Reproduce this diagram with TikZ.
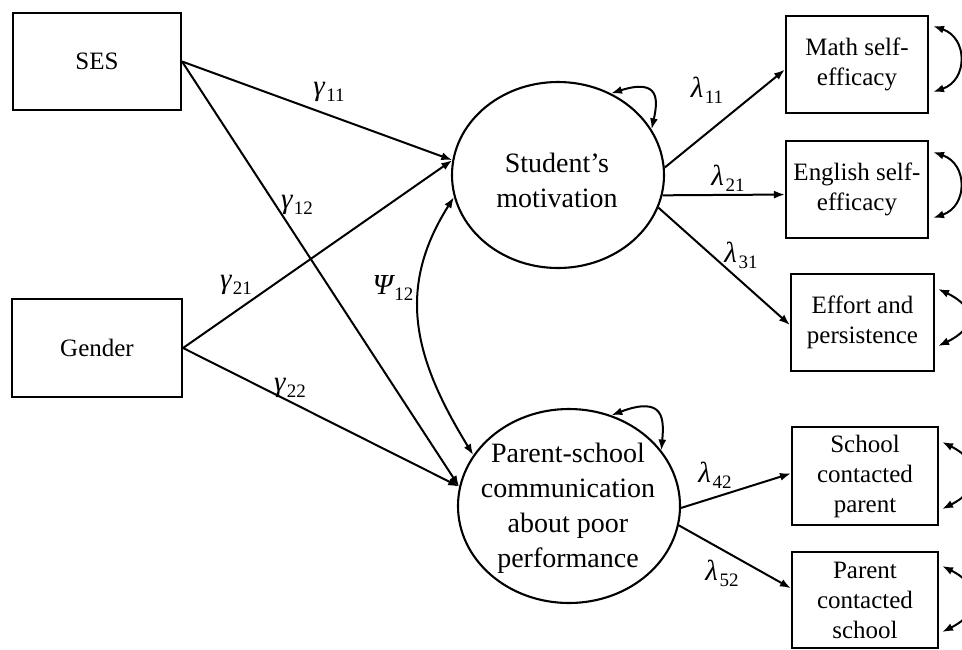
\documentclass[tikz,border=0pt]{standalone}
\usepackage{fontspec}
\setmainfont{Liberation Serif}
\usetikzlibrary{shapes.geometric,arrows.meta}
\newcommand\semlab[2]{{\itshape #1}\kern1.5pt\raisebox{-6pt}{\fontsize{19}{19}\selectfont #2}}
\begin{document}
\begin{tikzpicture}[x=1pt,y=-1pt,
  obs/.style={draw,line width=2.1pt,rectangle,inner sep=0pt,align=center,font=\fontsize{25}{30}\selectfont},
  lat/.style={draw,line width=2.1pt,ellipse,inner sep=0pt},
  lattext/.style={align=center,inner sep=0pt,font=\fontsize{28}{35}\selectfont},
  lbl/.style={inner sep=0pt,font=\fontsize{29}{30}\selectfont},
  arr/.style={line width=2pt,-{Latex[length=11pt,width=8pt]}},
  dbl/.style={line width=2pt,{Latex[length=11pt,width=8pt]}-{Latex[length=11pt,width=8pt]}}]
\useasboundingbox (0,0) rectangle (962,649);
\clip (0,0) rectangle (962,649);

% exogenous
\node[obs,minimum width=168pt,minimum height=97pt] (ses) at (97,61.5) {SES};
\node[obs,minimum width=170pt,minimum height=98pt] (gen) at (97,348) {Gender};

% latent
\node[lat,minimum width=212pt,minimum height=186pt] (sm) at (558,175) {};
\node[lattext] (smt) at (557,180) {Student’s\\motivation};
\node[lat,minimum width=222pt,minimum height=194pt] (ps) at (569,506) {};
\node[lattext] (pst) at (568,508) {Parent-school\\communication\\about poor\\performance};

% indicators
\node[obs,minimum width=142pt,minimum height=97pt] (math) at (857,64.5) {Math self-\\efficacy};
\node[obs,minimum width=142pt,minimum height=97pt] (eng) at (857,189.5) {English self-\\efficacy};
\node[obs,minimum width=143pt,minimum height=97pt] (eff) at (862.5,322.5) {Effort and\\persistence};
\node[obs,minimum width=146pt,minimum height=98pt] (scp) at (865,476) {School\\contacted\\parent};
\node[obs,minimum width=146pt,minimum height=96pt] (pcs) at (865,600) {Parent\\contacted\\school};

% structural paths
\draw[arr] (ses.east) -- (sm.172);
\draw[arr] (ses.east) -- (ps.170);
\draw[arr] (gen.east) -- (sm.172);
\draw[arr] (gen.east) -- (ps.170);
\draw[dbl] (sm.192) .. controls (395,290) and (415,360) .. (ps.152);

% loadings
\draw[arr] (sm.4) -- (math.184);
\draw[arr] (sm.-11) -- (eng.184);
\draw[arr] (sm.-18) -- (eff.182);
\draw[arr] (ps.-1) -- (scp.178);
\draw[arr] (ps.-10) -- (pcs.171);

% disturbances
\draw[dbl] (sm.57) .. controls (660,78) and (658,100) .. (sm.26);
\draw[dbl] (ps.65) .. controls (665,395) and (664,420) .. (ps.31);

% error variances
\draw[dbl] ([xshift=4pt,yshift=-11pt]math.north east) .. controls +(35,12) and +(35,-12) .. ([xshift=4pt,yshift=22pt]math.south east);
\draw[dbl] ([xshift=4pt,yshift=-12pt]eng.north east) .. controls +(35,12) and +(35,-12) .. ([xshift=4pt,yshift=21pt]eng.south east);
\draw[dbl] ([xshift=3pt,yshift=-16pt]eff.north east) .. controls +(38,18) and +(38,-18) .. ([xshift=3pt,yshift=26pt]eff.south east);
\draw[dbl] ([xshift=3pt,yshift=-16pt]scp.north east) .. controls +(40,20) and +(40,-20) .. ([xshift=3pt,yshift=17pt]scp.south east);
\draw[dbl] ([xshift=3pt,yshift=-15pt]pcs.north east) .. controls +(40,20) and +(40,-20) .. ([xshift=3pt,yshift=17pt]pcs.south east);

% labels
\node[lbl] (g11) at (329,92) {\semlab{γ}{11}};
\node[lbl] (g12) at (297,205) {\semlab{γ}{12}};
\node[lbl] (g21) at (236,285) {\semlab{γ}{21}};
\node[lbl] (g22) at (290,388) {\semlab{γ}{22}};
\node[lbl] (p12) at (393,288) {\semlab{Ψ}{12}};
\node[lbl] (l11) at (707,90) {\semlab{λ}{11}};
\node[lbl] (l21) at (728,178) {\semlab{λ}{21}};
\node[lbl] (l31) at (741,255) {\semlab{λ}{31}};
\node[lbl] (l42) at (715,475) {\semlab{λ}{42}};
\node[lbl] (l52) at (722,573) {\semlab{λ}{52}};
\end{tikzpicture}
\end{document}
